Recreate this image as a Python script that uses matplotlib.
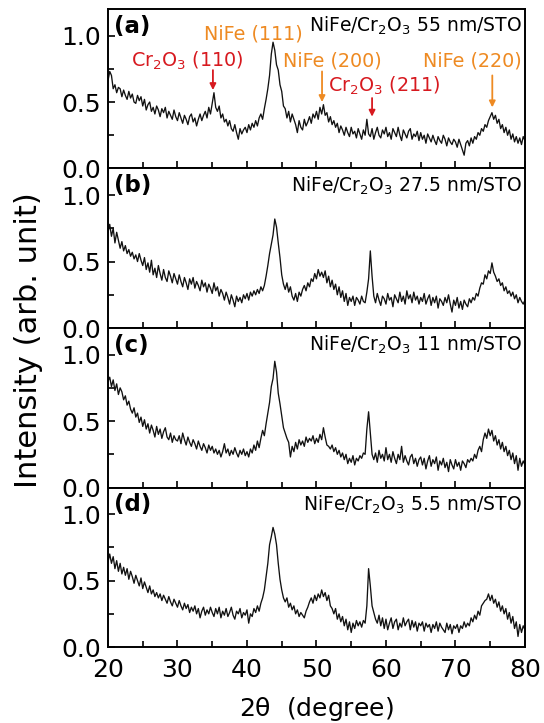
import numpy as np
import matplotlib
matplotlib.use("Agg")
import matplotlib.pyplot as plt
from matplotlib.ticker import MultipleLocator, FormatStrFormatter

plt.rcParams['font.family'] = ['DejaVu Sans']
plt.rcParams['mathtext.fontset'] = 'dejavusans'
plt.rcParams['mathtext.default'] = 'regular'

# 2theta grid: 20..80 deg, step 0.25
two_theta = np.arange(20.0, 80.001, 0.25)

int_a = [
    0.66, 0.73, 0.70, 0.60, 0.63, 0.57, 0.61, 0.60, 0.54, 0.59, 0.55, 0.52, 0.58, 0.53, 0.56, 0.50, 0.49, 0.55, 0.51, 0.54,
    0.47, 0.52, 0.44, 0.48, 0.50, 0.43, 0.46, 0.41, 0.47, 0.44, 0.39, 0.45, 0.42, 0.46, 0.38, 0.43, 0.40, 0.37, 0.44, 0.39,
    0.36, 0.42, 0.38, 0.34, 0.40, 0.37, 0.33, 0.39, 0.41, 0.35, 0.38, 0.32, 0.37, 0.41, 0.36, 0.40, 0.43, 0.38, 0.46, 0.41,
    0.49, 0.57, 0.46, 0.43, 0.47, 0.38, 0.41, 0.35, 0.37, 0.32, 0.36, 0.30, 0.28, 0.33, 0.27, 0.22, 0.30, 0.26, 0.29, 0.31,
    0.27, 0.33, 0.29, 0.34, 0.31, 0.36, 0.32, 0.38, 0.41, 0.37, 0.45, 0.52, 0.60, 0.70, 0.86, 0.95, 0.89, 0.78, 0.74, 0.63,
    0.58, 0.47, 0.45, 0.38, 0.43, 0.35, 0.41, 0.37, 0.33, 0.27, 0.36, 0.31, 0.29, 0.37, 0.32, 0.35, 0.39, 0.34, 0.41, 0.38,
    0.43, 0.37, 0.46, 0.41, 0.48, 0.40, 0.42, 0.35, 0.39, 0.33, 0.36, 0.31, 0.34, 0.27, 0.32, 0.29, 0.25, 0.31, 0.27, 0.24,
    0.31, 0.26, 0.28, 0.23, 0.30, 0.26, 0.22, 0.29, 0.25, 0.37, 0.26, 0.24, 0.30, 0.22, 0.27, 0.31, 0.25, 0.23, 0.29, 0.26,
    0.31, 0.24, 0.27, 0.22, 0.30, 0.27, 0.24, 0.31, 0.25, 0.21, 0.29, 0.26, 0.23, 0.28, 0.30, 0.22, 0.26, 0.24, 0.28, 0.21,
    0.27, 0.22, 0.25, 0.19, 0.26, 0.23, 0.20, 0.25, 0.21, 0.18, 0.24, 0.21, 0.19, 0.25, 0.22, 0.17, 0.23, 0.20, 0.18, 0.22,
    0.20, 0.16, 0.22, 0.18, 0.14, 0.10, 0.19, 0.21, 0.17, 0.23, 0.19, 0.24, 0.22, 0.27, 0.25, 0.30, 0.28, 0.33, 0.31, 0.36,
    0.39, 0.42, 0.37, 0.40, 0.34, 0.37, 0.30, 0.33, 0.27, 0.31, 0.25, 0.29, 0.22, 0.26, 0.20, 0.24, 0.19, 0.23, 0.18, 0.24,
    0.21,
]

int_b = [
    0.72, 0.78, 0.69, 0.75, 0.64, 0.72, 0.66, 0.60, 0.65, 0.58, 0.62, 0.56, 0.59, 0.54, 0.57, 0.52, 0.55, 0.50, 0.56, 0.51,
    0.47, 0.53, 0.44, 0.49, 0.42, 0.51, 0.40, 0.45, 0.38, 0.47, 0.41, 0.36, 0.44, 0.38, 0.35, 0.43, 0.39, 0.34, 0.41, 0.37,
    0.33, 0.40, 0.35, 0.31, 0.38, 0.34, 0.29, 0.37, 0.33, 0.38, 0.30, 0.35, 0.32, 0.28, 0.36, 0.31, 0.34, 0.27, 0.33, 0.30,
    0.26, 0.34, 0.28, 0.31, 0.24, 0.29, 0.26, 0.21, 0.27, 0.23, 0.18, 0.25, 0.21, 0.16, 0.24, 0.20, 0.23, 0.19, 0.25, 0.22,
    0.26, 0.21, 0.27, 0.24, 0.28, 0.25, 0.29, 0.26, 0.31, 0.28, 0.32, 0.39, 0.47, 0.56, 0.63, 0.70, 0.82, 0.76, 0.64, 0.53,
    0.40, 0.33, 0.29, 0.34, 0.27, 0.31, 0.24, 0.21, 0.26, 0.20, 0.27, 0.24, 0.29, 0.32, 0.28, 0.34, 0.31, 0.37, 0.35, 0.41,
    0.37, 0.44, 0.39, 0.42, 0.38, 0.43, 0.34, 0.39, 0.31, 0.36, 0.29, 0.33, 0.25, 0.31, 0.23, 0.28, 0.20, 0.26, 0.17, 0.23,
    0.20, 0.24, 0.17, 0.23, 0.21, 0.18, 0.24, 0.20, 0.19, 0.27, 0.37, 0.58, 0.39, 0.24, 0.19, 0.26, 0.21, 0.17, 0.24, 0.22,
    0.18, 0.26, 0.21, 0.23, 0.16, 0.25, 0.22, 0.19, 0.27, 0.20, 0.24, 0.18, 0.28, 0.22, 0.25, 0.19, 0.27, 0.21, 0.24, 0.18,
    0.23, 0.20, 0.26, 0.18, 0.22, 0.25, 0.17, 0.23, 0.19, 0.24, 0.15, 0.22, 0.20, 0.17, 0.23, 0.19, 0.25, 0.18, 0.12, 0.21,
    0.17, 0.23, 0.15, 0.20, 0.14, 0.21, 0.18, 0.16, 0.22, 0.19, 0.23, 0.21, 0.26, 0.24, 0.30, 0.34, 0.33, 0.40, 0.37, 0.43,
    0.41, 0.49, 0.42, 0.39, 0.35, 0.37, 0.32, 0.34, 0.28, 0.31, 0.26, 0.28, 0.24, 0.27, 0.22, 0.25, 0.19, 0.23, 0.20, 0.18,
    0.21,
]

int_c = [
    0.80, 0.83, 0.76, 0.81, 0.73, 0.78, 0.70, 0.75, 0.72, 0.66, 0.69, 0.62, 0.65, 0.59, 0.56, 0.60, 0.53, 0.56, 0.49, 0.53,
    0.46, 0.51, 0.44, 0.48, 0.41, 0.47, 0.43, 0.38, 0.46, 0.40, 0.44, 0.37, 0.42, 0.45, 0.38, 0.36, 0.41, 0.34, 0.39, 0.36,
    0.35, 0.39, 0.33, 0.41, 0.36, 0.32, 0.38, 0.34, 0.31, 0.36, 0.33, 0.29, 0.35, 0.31, 0.28, 0.33, 0.30, 0.26, 0.32, 0.28,
    0.31, 0.26, 0.29, 0.25, 0.28, 0.23, 0.27, 0.33, 0.26, 0.29, 0.24, 0.28, 0.25, 0.30, 0.26, 0.23, 0.28, 0.25, 0.29, 0.24,
    0.27, 0.23, 0.29, 0.26, 0.32, 0.28, 0.35, 0.30, 0.37, 0.43, 0.39, 0.48, 0.56, 0.64, 0.76, 0.82, 0.95, 0.87, 0.71, 0.63,
    0.54, 0.45, 0.41, 0.37, 0.34, 0.23, 0.31, 0.27, 0.34, 0.29, 0.36, 0.32, 0.35, 0.31, 0.38, 0.34, 0.37, 0.35, 0.39, 0.33,
    0.37, 0.34, 0.40, 0.36, 0.45, 0.38, 0.32, 0.31, 0.29, 0.32, 0.27, 0.30, 0.25, 0.28, 0.23, 0.26, 0.21, 0.25, 0.18, 0.22,
    0.19, 0.24, 0.17, 0.22, 0.20, 0.24, 0.22, 0.26, 0.25, 0.44, 0.57, 0.41, 0.25, 0.21, 0.26, 0.19, 0.28, 0.22, 0.25, 0.20,
    0.30, 0.21, 0.25, 0.19, 0.27, 0.22, 0.18, 0.25, 0.21, 0.31, 0.19, 0.24, 0.20, 0.17, 0.23, 0.25, 0.18, 0.22, 0.16, 0.21,
    0.23, 0.17, 0.22, 0.14, 0.20, 0.24, 0.16, 0.21, 0.18, 0.23, 0.13, 0.20, 0.17, 0.22, 0.15, 0.19, 0.12, 0.21, 0.17, 0.14,
    0.21, 0.16, 0.19, 0.13, 0.20, 0.18, 0.15, 0.21, 0.19, 0.22, 0.20, 0.25, 0.22, 0.28, 0.31, 0.27, 0.36, 0.41, 0.37, 0.44,
    0.39, 0.43, 0.35, 0.39, 0.32, 0.36, 0.29, 0.34, 0.27, 0.31, 0.24, 0.28, 0.21, 0.26, 0.18, 0.24, 0.13, 0.22, 0.16, 0.20,
    0.17,
]

int_d = [
    0.64, 0.70, 0.63, 0.68, 0.59, 0.65, 0.57, 0.63, 0.55, 0.60, 0.54, 0.59, 0.51, 0.57, 0.53, 0.48, 0.54, 0.50, 0.46, 0.52,
    0.44, 0.49, 0.45, 0.41, 0.46, 0.40, 0.43, 0.38, 0.41, 0.37, 0.40, 0.35, 0.39, 0.36, 0.33, 0.38, 0.34, 0.31, 0.36, 0.33,
    0.30, 0.35, 0.31, 0.28, 0.33, 0.29, 0.32, 0.26, 0.30, 0.27, 0.31, 0.25, 0.29, 0.22, 0.27, 0.30, 0.24, 0.28, 0.25, 0.30,
    0.26, 0.23, 0.29, 0.25, 0.30, 0.22, 0.27, 0.24, 0.29, 0.23, 0.26, 0.30, 0.24, 0.21, 0.27, 0.25, 0.29, 0.22, 0.26, 0.24,
    0.28, 0.18, 0.25, 0.23, 0.29, 0.26, 0.31, 0.27, 0.33, 0.37, 0.43, 0.53, 0.63, 0.77, 0.83, 0.90, 0.85, 0.77, 0.63, 0.51,
    0.43, 0.37, 0.34, 0.37, 0.30, 0.33, 0.28, 0.31, 0.25, 0.28, 0.23, 0.26, 0.24, 0.22, 0.27, 0.30, 0.34, 0.37, 0.33, 0.39,
    0.35, 0.40, 0.37, 0.43, 0.38, 0.41, 0.35, 0.39, 0.31, 0.29, 0.25, 0.29, 0.21, 0.25, 0.19, 0.23, 0.16, 0.21, 0.13, 0.19,
    0.11, 0.18, 0.14, 0.20, 0.16, 0.19, 0.15, 0.20, 0.18, 0.31, 0.59, 0.46, 0.31, 0.26, 0.21, 0.18, 0.24, 0.16, 0.22, 0.14,
    0.21, 0.13, 0.18, 0.22, 0.14, 0.19, 0.21, 0.13, 0.18, 0.15, 0.22, 0.16, 0.19, 0.21, 0.13, 0.20, 0.15, 0.19, 0.12, 0.18,
    0.16, 0.19, 0.12, 0.18, 0.15, 0.17, 0.11, 0.17, 0.14, 0.19, 0.12, 0.18, 0.15, 0.13, 0.11, 0.18, 0.13, 0.17, 0.10, 0.16,
    0.14, 0.17, 0.11, 0.16, 0.14, 0.19, 0.15, 0.18, 0.16, 0.22, 0.19, 0.24, 0.21, 0.27, 0.24, 0.31, 0.33, 0.35, 0.36, 0.40,
    0.35, 0.39, 0.33, 0.36, 0.30, 0.34, 0.27, 0.31, 0.25, 0.29, 0.21, 0.26, 0.18, 0.23, 0.14, 0.19, 0.08, 0.17, 0.11, 0.16,
    0.13,
]

series = [int_a, int_b, int_c, int_d]
panel_tags = ['(a)', '(b)', '(c)', '(d)']
sample_labels = [r'NiFe/Cr$_2$O$_3$ 55 nm/STO', r'NiFe/Cr$_2$O$_3$ 27.5 nm/STO',
                 r'NiFe/Cr$_2$O$_3$ 11 nm/STO', r'NiFe/Cr$_2$O$_3$ 5.5 nm/STO']

# peak annotations in panel (a)
peak_labels = [r'Cr$_2$O$_3$ (110)', 'NiFe (111)', 'NiFe (200)', r'Cr$_2$O$_3$ (211)', 'NiFe (220)']
peak_text_x = [31.4, 40.9, 52.3, 59.8, 72.5]
peak_text_y = [0.81, 1.01, 0.81, 0.62, 0.81]
arrow_x = [35.1, None, 50.8, 58.0, 75.3]
arrow_from = [0.74, None, 0.73, 0.53, 0.70]
arrow_to = [0.59, None, 0.50, 0.39, 0.46]
red = '#D7191F'
orange = '#EE8A22'
peak_colors = [red, orange, orange, red, orange]

fig = plt.figure(figsize=(5.44, 7.23), dpi=100)
left, right, top, bottom = 0.1985, 0.965, 0.9876, 0.105
h = (top - bottom) / 4
axes = []
for i in range(4):
    ax = fig.add_axes([left, top - (i + 1) * h, right - left, h])
    axes.append(ax)
    ax.plot(two_theta, series[i], color='#111111', lw=0.95)
    ax.set_xlim(20, 80)
    ax.set_ylim(0, 1.2)
    ax.xaxis.set_major_locator(MultipleLocator(10))
    ax.xaxis.set_minor_locator(MultipleLocator(5))
    ax.yaxis.set_major_locator(MultipleLocator(0.5))
    ax.yaxis.set_minor_locator(MultipleLocator(0.25))
    ax.yaxis.set_major_formatter(FormatStrFormatter('%.1f'))
    ax.tick_params(which='both', direction='in', top=False, right=False, labelsize=18, width=1.2)
    ax.tick_params(which='major', length=5, pad=5)
    ax.tick_params(which='minor', length=4)
    ax.tick_params(axis='x', which='major', pad=8)
    for s in ax.spines.values():
        s.set_linewidth(1.4)
    if i < 3:
        ax.tick_params(labelbottom=False)
    ax.text(20.9, 1.07, panel_tags[i], fontsize=16.5, fontweight='bold', va='center', ha='left')
    ax.text(79.6, 1.07, sample_labels[i], fontsize=13.5, va='center', ha='right')

ax = axes[0]
for lab, tx, ty, axx, af, at, col in zip(peak_labels, peak_text_x, peak_text_y, arrow_x, arrow_from, arrow_to, peak_colors):
    ax.text(tx, ty, lab, fontsize=13.8, color=col, ha='center', va='center')
    if axx is not None:
        ax.annotate('', xy=(axx, at), xytext=(axx, af),
                    arrowprops=dict(arrowstyle='-|>', color=col, lw=1.3, mutation_scale=9,
                                    shrinkA=0, shrinkB=0))

axes[3].set_xlabel(r'2$\theta$  (degree)', fontsize=18, labelpad=9)
fig.text(0.052, 0.53, 'Intensity (arb. unit)', rotation=90, fontsize=22,
         ha='center', va='center')

fig.savefig('out.png', dpi=100)
